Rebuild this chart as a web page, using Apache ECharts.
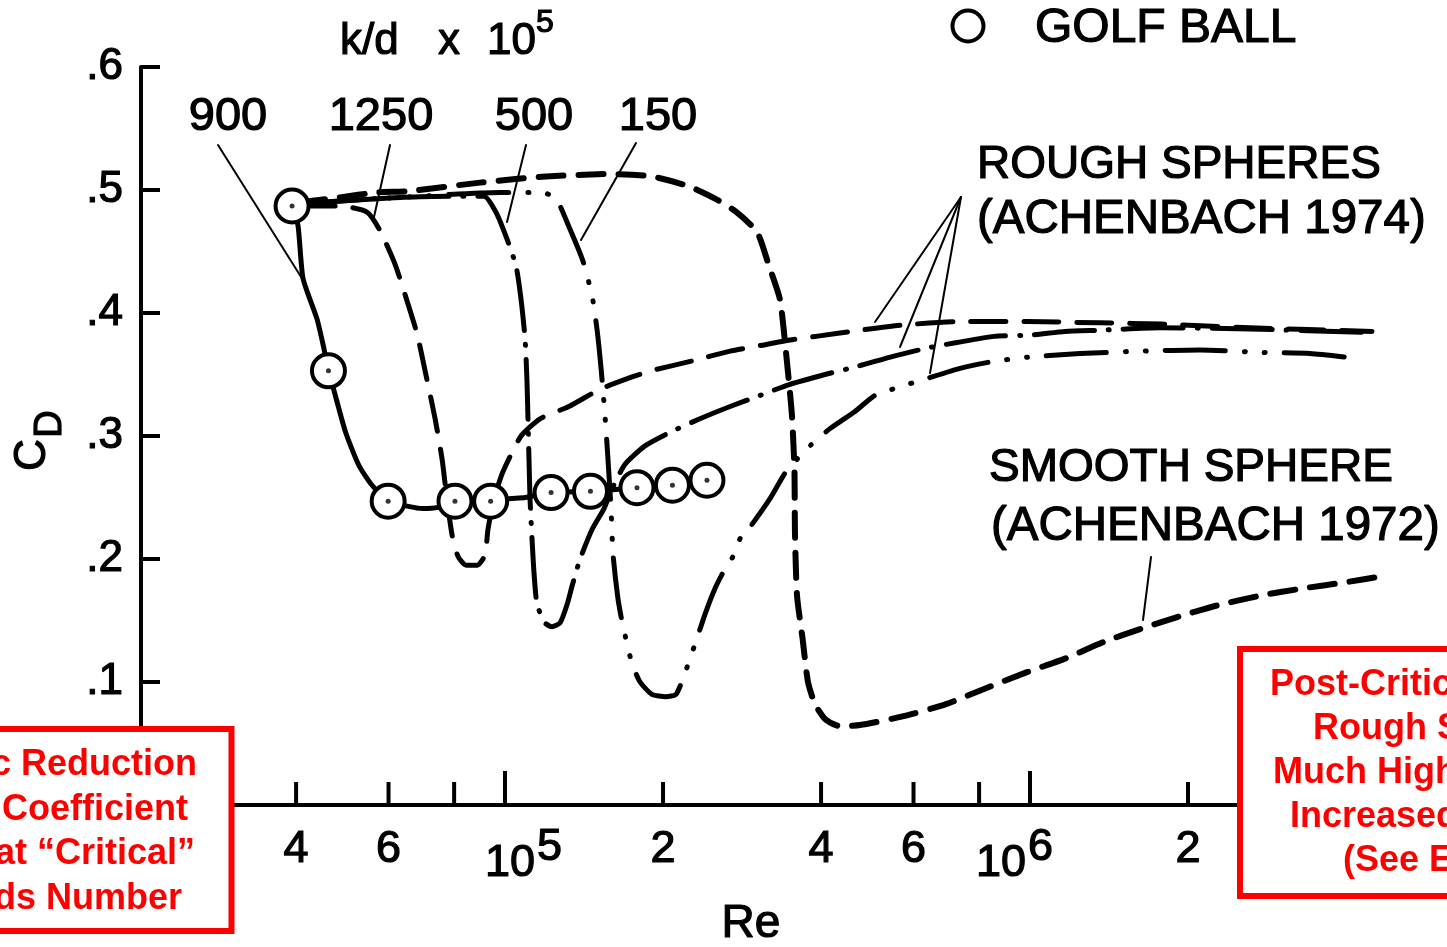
<!DOCTYPE html>
<html>
<head>
<meta charset="utf-8">
<script src="https://cdn.jsdelivr.net/npm/echarts@6/dist/echarts.min.js"></script>
<style>
html,body{margin:0;padding:0;background:#fff;}
#c{width:1447px;height:947px;}
</style>
</head>
<body>
<div id="c"></div>
<script>
// ---------------- DATA ----------------
// Golf ball: traced solid curve and measured circles
const golfLineRe = [39300, 40340, 41240, 43850, 45200, 46100, 47160, 49700, 52700, 55560, 59900, 65100, 69700, 74550, 80300, 93900, 102000, 109200, 122400, 145500, 178400, 208400, 242500];
const golfLineCd = [0.487, 0.471, 0.428, 0.395, 0.371, 0.353, 0.338, 0.303, 0.276, 0.261, 0.247, 0.243, 0.241, 0.242, 0.247, 0.247, 0.249, 0.250, 0.254, 0.255, 0.258, 0.260, 0.264];
const golfBallRe = [39300, 46100, 59900, 80300, 93900, 122400, 145500, 178400, 208400, 242500];
const golfBallCd = [0.487, 0.353, 0.247, 0.247, 0.247, 0.254, 0.255, 0.258, 0.260, 0.264];

// Smooth sphere (Achenbach 1972)
const smoothRe = [40700, 48500, 56800, 65350, 89600, 119700, 158500, 190500, 224100, 251200, 274200, 302000, 318500, 334000, 343000, 352000, 356000, 356700, 360000, 368900, 377700, 389500, 407000, 434600, 474600, 571600, 691800, 835600, 987000, 1166000, 1390000, 1620000, 1914000, 2261000, 2731000, 3297000, 3981000, 4683000];
const smoothCd = [0.490, 0.494, 0.498, 0.499, 0.506, 0.511, 0.513, 0.511, 0.503, 0.493, 0.483, 0.466, 0.438, 0.411, 0.368, 0.317, 0.271, 0.222, 0.170, 0.135, 0.100, 0.082, 0.070, 0.064, 0.065, 0.072, 0.082, 0.096, 0.108, 0.119, 0.133, 0.143, 0.153, 0.162, 0.170, 0.176, 0.181, 0.186];

// Rough spheres (Achenbach 1974), k/d x 10^5 = 1250, 500, 150
const rough1250Re = [40700, 48500, 54600, 57800, 61700, 64500, 68000, 71000, 73600, 75900, 77500, 79250, 81400, 84300, 88500, 91600, 92800, 95300, 99100, 107300, 116600, 132400, 151700, 174600, 189700, 227100, 268400, 302000, 349100, 391300, 474600, 565500, 726000, 987000, 1360000, 1784000, 2624000, 4482000];
const rough1250Cd = [0.487, 0.487, 0.482, 0.467, 0.440, 0.415, 0.383, 0.346, 0.314, 0.281, 0.249, 0.220, 0.202, 0.195, 0.195, 0.203, 0.224, 0.249, 0.271, 0.300, 0.314, 0.324, 0.338, 0.348, 0.353, 0.361, 0.369, 0.373, 0.378, 0.381, 0.386, 0.390, 0.393, 0.393, 0.392, 0.391, 0.388, 0.385];

const rough500Re = [40700, 63100, 82100, 91200, 96100, 100900, 105000, 107300, 109200, 110100, 110600, 111100, 111600, 112600, 113600, 115100, 119200, 122900, 127300, 131300, 134200, 139000, 146500, 154400, 159900, 169300, 184800, 206200, 235100, 268400, 306000, 349100, 407000, 472500, 550800, 644900, 726000, 854000, 1000000, 1166000, 1360000, 1769000, 2624000, 4482000];
const rough500Cd = [0.489, 0.494, 0.495, 0.495, 0.482, 0.460, 0.438, 0.411, 0.379, 0.346, 0.314, 0.281, 0.249, 0.216, 0.188, 0.163, 0.148, 0.145, 0.148, 0.163, 0.178, 0.200, 0.224, 0.241, 0.257, 0.277, 0.292, 0.303, 0.314, 0.324, 0.333, 0.342, 0.350, 0.357, 0.365, 0.372, 0.376, 0.381, 0.382, 0.385, 0.386, 0.388, 0.387, 0.384];

const rough150Re = [40700, 63100, 97800, 117600, 125100, 133000, 140800, 146500, 149700, 152400, 155100, 157100, 159200, 160600, 164100, 167100, 170800, 174600, 180800, 190500, 202600, 211700, 219300, 225100, 231100, 240400, 251200, 260200, 271800, 281500, 294100, 319700, 343000, 381100, 415900, 464200, 506900, 565500, 628300, 735600, 835600, 987000, 1245000, 1620000, 2107000, 2743000, 3415000, 4232000];
const rough150Cd = [0.489, 0.494, 0.498, 0.498, 0.493, 0.468, 0.442, 0.414, 0.387, 0.355, 0.316, 0.281, 0.241, 0.204, 0.168, 0.149, 0.131, 0.115, 0.100, 0.090, 0.088, 0.090, 0.105, 0.119, 0.133, 0.155, 0.176, 0.189, 0.202, 0.218, 0.227, 0.249, 0.271, 0.292, 0.306, 0.320, 0.333, 0.340, 0.346, 0.355, 0.360, 0.364, 0.367, 0.369, 0.370, 0.368, 0.367, 0.363];

// Axis ticks
const xTickValues = [40000, 60000, 80000, 100000, 200000, 400000, 600000, 800000, 1000000, 2000000];
const xTickLabels = ['4', '6', '', '10', '2', '4', '6', '', '10', '2'];
const xTickSup    = ['', '', '', '5', '', '', '', '', '6', ''];
const yTickLabels = ['', '.1', '.2', '.3', '.4', '.5', '.6'];

// Curve labels
const roughLabels = ['900', '1250', '500', '150'];

// ---------------- LAYOUT / STYLE ----------------
const FONT = '"Liberation Sans", Arial, Helvetica, sans-serif';
const X_MIN = 20260, X_MAX = 6040000;
const zip = (a, b) => a.map((v, i) => [v, b[i]]);
const supShift = { '5': 30, '6': -4 };   // horizontal placement of "10ⁿ" labels
const INK = 1.2;                           // extra stroke to mimic the heavier scanned lettering

function txt(x, y, text, size, opts) {
  opts = opts || {};
  const col = opts.fill || '#000';
  const st = {
    text: text, fill: col,
    font: (opts.weight || 'normal') + ' ' + size + 'px ' + FONT,
    textAlign: opts.align || 'left', align: opts.align || 'left',
    textVerticalAlign: 'middle', verticalAlign: 'middle'
  };
  if (!opts.noInk) { st.stroke = col; st.lineWidth = INK; }
  return { type: 'text', x: x, y: y, z: opts.z || 20, rotation: opts.rotation || 0, style: st };
}
function seg(x1, y1, x2, y2, w) {
  return { type: 'line', z: 15, shape: { x1: x1, y1: y1, x2: x2, y2: y2 },
           style: { stroke: '#000', lineWidth: w || 2, lineCap: 'round' } };
}

const chart = echarts.init(document.getElementById('c'), null, { renderer: 'canvas' });

function curve(name, re, cd, dash, width, offset) {
  return {
    name: name, type: 'line', data: zip(re, cd), symbol: 'none', smooth: 0.2,
    lineStyle: { color: '#000', width: width || 5, type: dash, dashOffset: offset || 0, cap: 'round', join: 'round' },
    z: 3, silent: true, animation: false
  };
}

const labelXs = [228, 381, 534, 658];
const red = { fill: '#ff0000', weight: 'bold', z: 31, noInk: true };

const option = {
  animation: false,
  backgroundColor: '#fff',
  grid: { left: 141, right: 7, top: 67, bottom: 142 },
  xAxis: {
    type: 'log', logBase: 10, min: X_MIN, max: X_MAX,
    axisLine: { show: true, onZero: false, lineStyle: { color: '#000', width: 4 } },
    axisTick: { show: false }, axisLabel: { show: false },
    splitLine: { show: false }, minorTick: { show: false }
  },
  yAxis: {
    type: 'value', min: 0, max: 0.6, interval: 0.1,
    axisLine: { show: true, lineStyle: { color: '#000', width: 4 } },
    axisTick: { show: true, inside: true, length: 19, lineStyle: { color: '#000', width: 4 } },
    axisLabel: {
      formatter: function (v) { return yTickLabels[Math.round(v * 10)]; },
      fontSize: 44, fontFamily: FONT, color: '#000', margin: 18,
      textBorderColor: '#000', textBorderWidth: INK
    },
    splitLine: { show: false }
  },
  series: [
    curve('Smooth sphere', smoothRe, smoothCd, [25, 15], 6),
    curve('k/d 1250', rough1250Re, rough1250Cd, [35, 18], 5),
    curve('k/d 500', rough500Re, rough500Cd, [60, 14, 1, 14], 5),
    curve('k/d 150', rough150Re, rough150Cd, [60, 19, 1, 19, 1, 19], 5, 89),
    {
      name: 'Golf ball line', type: 'line', data: zip(golfLineRe, golfLineCd), symbol: 'none',
      smooth: 0.2, lineStyle: { color: '#000', width: 5, join: 'round', cap: 'round' }, z: 4, silent: true
    },
    {
      name: 'Golf ball', type: 'scatter', data: zip(golfBallRe, golfBallCd), symbol: 'circle', symbolSize: 33,
      itemStyle: { color: '#fff', borderColor: '#000', borderWidth: 4, opacity: 1 }, z: 6, silent: true
    },
    {
      name: 'Golf ball centre', type: 'scatter', data: zip(golfBallRe, golfBallCd), symbol: 'circle', symbolSize: 5,
      itemStyle: { color: '#000' }, z: 7, silent: true
    },
    {
      name: 'x ticks', type: 'custom', clip: false, z: 8, silent: true,
      data: xTickValues.map(v => [v, 0]),
      encode: { x: 0, y: 1 },
      renderItem: function (params, api) {
        const i = params.dataIndex;
        const p = api.coord([api.value(0), 0]);
        const major = xTickSup[i] !== '';
        const len = major ? 34 : 23;
        const children = [{
          type: 'line', shape: { x1: p[0], y1: p[1], x2: p[0], y2: p[1] - len },
          style: { stroke: '#000', lineWidth: 4 }
        }];
        const mk = (x, y, t, al) => ({
          type: 'text', x: x, y: y,
          style: { text: t, fill: '#000', stroke: '#000', lineWidth: INK, font: 'normal 45px ' + FONT,
                   textAlign: al, align: al, textVerticalAlign: 'middle', verticalAlign: 'middle' }
        });
        if (major) {
          const xr = p[0] + supShift[xTickSup[i]];
          children.push(mk(xr, p[1] + 59, xTickLabels[i], 'right'));
          children.push(mk(xr + 2, p[1] + 43, xTickSup[i], 'left'));
        } else if (xTickLabels[i]) {
          children.push(mk(p[0], p[1] + 45, xTickLabels[i], 'center'));
        }
        return { type: 'group', children: children };
      }
    }
  ],
  graphic: {
    elements: [
      // header  k/d x 10^5
      txt(340, 42, 'k/d', 44),
      txt(438, 42, 'x', 44),
      txt(487, 42, '10', 44),
      txt(536, 23, '5', 32),
      // curve labels
      txt(labelXs[0], 117, roughLabels[0], 47, { align: 'center' }),
      txt(labelXs[1], 117, roughLabels[1], 47, { align: 'center' }),
      txt(labelXs[2], 117, roughLabels[2], 47, { align: 'center' }),
      txt(labelXs[3], 117, roughLabels[3], 47, { align: 'center' }),
      // leaders
      seg(218, 145, 303, 280), seg(390, 145, 374, 217), seg(526, 145, 507, 222), seg(636, 143, 581, 240),
      seg(961, 197, 875, 322), seg(961, 197, 900, 347), seg(961, 197, 930, 373),
      seg(1151, 557, 1143, 620),
      // legend
      { type: 'circle', z: 20, shape: { cx: 968, cy: 26, r: 15.5 }, style: { fill: '#fff', stroke: '#000', lineWidth: 4 } },
      txt(1035, 29, 'GOLF BALL', 48),
      txt(977, 165, 'ROUGH SPHERES', 46),
      txt(977, 220, '(ACHENBACH 1974)', 47.5),
      txt(989, 468, 'SMOOTH SPHERE', 46),
      txt(991, 527, '(ACHENBACH 1972)', 47.5),
      // axis titles
      txt(751, 924, 'Re', 46, { align: 'center' }),
      txt(33, 455, 'C', 44, { align: 'center', rotation: Math.PI / 2 }),
      txt(51, 424, 'D', 38, { align: 'center', rotation: Math.PI / 2 }),
      // red call-out boxes
      { type: 'rect', z: 30, shape: { x: -180, y: 729, width: 411.5, height: 202 },
        style: { fill: '#fff', stroke: '#ff0000', lineWidth: 6 } },
      txt(197, 765, 'c Reduction', 36, Object.assign({ align: 'right' }, red)),
      txt(188, 810, 'Coefficient', 36, Object.assign({ align: 'right' }, red)),
      txt(195, 854, 'at \u201cCritical\u201d', 36, Object.assign({ align: 'right' }, red)),
      txt(182, 899, 'ds Number', 36, Object.assign({ align: 'right' }, red)),
      { type: 'rect', z: 30, shape: { x: 1240, y: 649, width: 300, height: 247 },
        style: { fill: '#fff', stroke: '#ff0000', lineWidth: 6 } },
      txt(1270, 685, 'Post-Critic', 36, red),
      txt(1313, 729, 'Rough S', 36, red),
      txt(1273, 773, 'Much High', 36, red),
      txt(1290, 817, 'Increased', 36, red),
      txt(1343, 861, '(See E', 36, red)
    ]
  }
};
chart.setOption(option);
</script>
</body>
</html>
